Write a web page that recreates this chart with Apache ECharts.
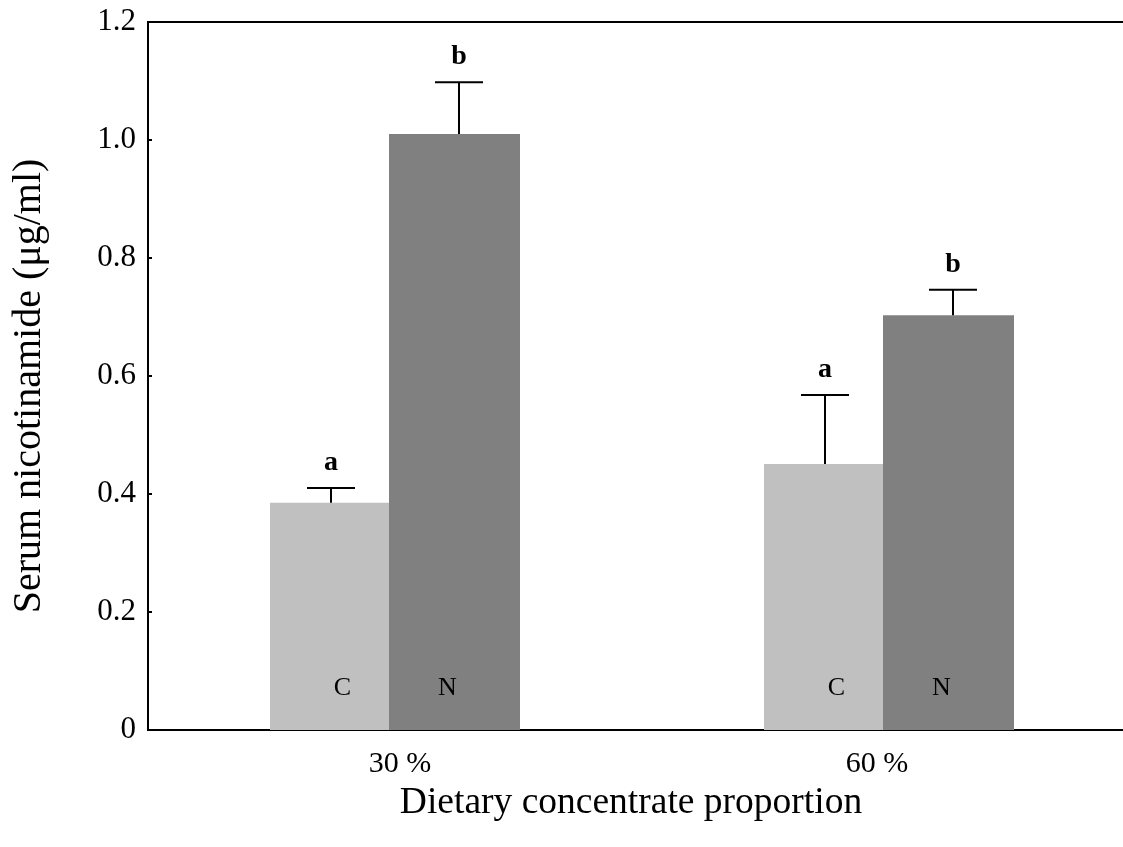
<!DOCTYPE html>
<html>
<head>
<meta charset="utf-8">
<script src="https://cdn.jsdelivr.net/npm/echarts@6/dist/echarts.min.js"></script>
<style>html,body{margin:0;padding:0;background:#fff;}#chart{width:1123px;height:847px;}</style>
</head>
<body>
<div id="chart"></div>
<script>
const categories = ['30 %', '60 %'];
const seriesNames = ['C', 'N'];
const meanC = [0.385, 0.451];
const meanN = [1.010, 0.703];
const errC = [0.025, 0.117];
const errN = [0.088, 0.043];
const lettersC = ['a', 'a'];
const lettersN = ['b', 'b'];
const yTicks = [0, 0.2, 0.4, 0.6, 0.8, 1.0, 1.2];

const FONT = '"Liberation Serif", "Times New Roman", serif';

function errData(means, errs) {
  return means.map((m, i) => [i, m, errs[i]]);
}
const letterLookup = { 2: lettersC, 3: lettersN };

function makeErrRender(offsetPx) {
  return function (params, api) {
    const cat = api.value(0);
    const m = api.value(1);
    const e = api.value(2);
    const letter = letterLookup[params.seriesIndex][params.dataIndex];
    const base = api.coord([cat, m]);
    const top = api.coord([cat, m + e]);
    const x = base[0] + offsetPx;
    const half = 24;
    return {
      type: 'group',
      children: [
        { type: 'line', shape: { x1: x, y1: base[1], x2: x, y2: top[1] }, style: { stroke: '#000', lineWidth: 2 } },
        { type: 'line', shape: { x1: x - half, y1: top[1], x2: x + half, y2: top[1] }, style: { stroke: '#000', lineWidth: 2 } },
        { type: 'text', style: { x: x, y: top[1] - 25, text: letter, fill: '#000', font: 'bold 28px ' + FONT, align: 'center', verticalAlign: 'middle' } }
      ]
    };
  };
}

const chart = echarts.init(document.getElementById('chart'), null, { renderer: 'canvas' });
chart.setOption({
  animation: false,
  backgroundColor: '#fff',
  grid: { left: 148, top: 22, height: 708, width: 988, outerBoundsMode: 'none', containLabel: false, show: true, borderColor: '#000', borderWidth: 2, backgroundColor: 'transparent' },
  xAxis: {
    type: 'category',
    data: categories,
    axisLine: { show: true, lineStyle: { color: '#000', width: 2 } },
    axisTick: { show: false },
    axisLabel: {
      color: '#000', fontFamily: FONT, fontSize: 30, margin: 19,
      formatter: (v, i) => (i === 0 ? '{l|' + v + '}' : '{r|' + v + '}'),
      rich: {
        l: { fontFamily: FONT, fontSize: 30, color: '#000', padding: [0, 0, 0, 10] },
        r: { fontFamily: FONT, fontSize: 30, color: '#000', padding: [0, 24, 0, 0] }
      }
    },
    name: 'Dietary concentrate proportion',
    nameLocation: 'middle',
    nameGap: 42,
    nameTextStyle: { color: '#000', fontFamily: FONT, fontSize: 37.5, padding: [0, 22, 0, 0] }
  },
  yAxis: {
    type: 'value',
    min: 0,
    max: 1.2,
    interval: 0.2,
    axisLine: { show: true, lineStyle: { color: '#000', width: 2 } },
    axisTick: { show: true, inside: true, length: 4, lineStyle: { color: '#000', width: 2 } },
    splitLine: { show: false },
    axisLabel: {
      color: '#000', fontFamily: FONT, fontSize: 31, margin: 12,
      formatter: v => (v === 0 ? '0' : v.toFixed(1))
    },
    name: 'Serum nicotinamide (μg/ml)',
    nameLocation: 'middle',
    nameGap: 99,
    nameTextStyle: { color: '#000', fontFamily: FONT, fontSize: 40, padding: [0, 20, 0, 0] }
  },
  series: [
    {
      name: seriesNames[0], type: 'bar', data: meanC, barWidth: 119, barGap: '0%',
      itemStyle: { color: '#c0c0c0' },
      label: { show: true, position: 'insideBottom', distance: 29, offset: [13, 0], formatter: seriesNames[0], color: '#000', fontFamily: FONT, fontSize: 26 }
    },
    {
      name: seriesNames[1], type: 'bar', data: meanN, barWidth: 131, barGap: '0%',
      itemStyle: { color: '#808080' },
      label: { show: true, position: 'insideBottom', distance: 29, offset: [-7, 0], formatter: seriesNames[1], color: '#000', fontFamily: FONT, fontSize: 26 }
    },
    { type: 'custom', renderItem: makeErrRender(-64), data: errData(meanC, errC), z: 5 },
    { type: 'custom', renderItem: makeErrRender(64), data: errData(meanN, errN), z: 5 }
  ]
});
</script>
</body>
</html>
